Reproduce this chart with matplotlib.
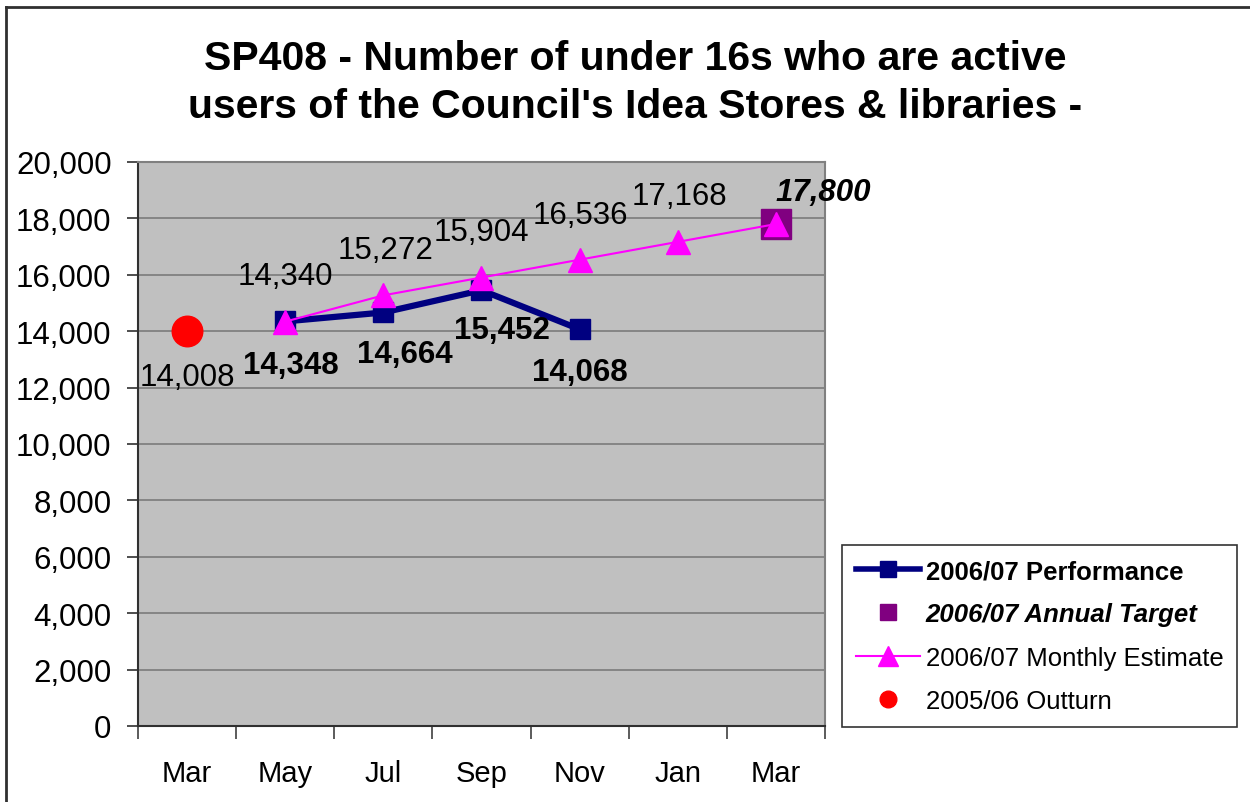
import numpy as np
import matplotlib
matplotlib.use("Agg")
import matplotlib.pyplot as plt
from matplotlib.lines import Line2D

plt.rcParams['font.family'] = ['Liberation Sans', 'DejaVu Sans']

# donnees
mois = ['Mar', 'May', 'Jul', 'Sep', 'Nov', 'Jan', 'Mar']
outturn_x = [0]
outturn = [14008]
perf_x = [1, 2, 3, 4]
perf = [14348, 14664, 15452, 14068]
estim_x = [1, 2, 3, 4, 5, 6]
estim = [14340, 15272, 15904, 16536, 17168, 17800]
cible_x = [6]
cible = [17800]

# decalages des etiquettes (pixels)
dec_perf = [(6, -44), (21, -42), (20, -40), (0, -43)]
dec_estim = [(0, 46), (2, 45), (0, 46), (1, 45), (2, 46), None]

fig = plt.figure(figsize=(12.5, 8.03), dpi=100)
ax = fig.add_axes([138/1250, 1-727/803, 687/1250, 564/803])
ax.set_facecolor('#C0C0C0')

for v in range(2000, 20001, 2000):
    ax.axhline(v, color='#808080', lw=1.3, zorder=1)

ax.plot(estim_x, estim, color='#FF00FF', lw=1.5, marker='^', ms=17, zorder=3)
ax.plot(perf_x, perf, color='#000080', lw=4.5, marker='s', ms=14, zorder=2)
ax.plot(cible_x, cible, ls='none', marker='s', color='#800080', ms=22, zorder=2)
ax.plot(outturn_x, outturn, ls='none', marker='o', color='#FF0000', ms=22, zorder=3)

fs = 22.5
for x, v in zip(outturn_x, outturn):
    ax.annotate(f"{v:,}", (x, v), xytext=(0, -46), textcoords='offset pixels',
                ha='center', va='center', fontsize=fs)
for (x, v), d in zip(zip(perf_x, perf), dec_perf):
    ax.annotate(f"{v:,}", (x, v), xytext=d, textcoords='offset pixels',
                ha='center', va='center', fontsize=fs, fontweight='bold')
for (x, v), d in zip(zip(estim_x, estim), dec_estim):
    if d is None:
        continue
    ax.annotate(f"{v:,}", (x, v), xytext=d, textcoords='offset pixels',
                ha='center', va='center', fontsize=fs)
for x, v in zip(cible_x, cible):
    ax.annotate(f"{v:,}", (x, v), xytext=(47, 32), textcoords='offset pixels',
                ha='center', va='center', fontsize=fs, fontweight='bold', style='italic',
                annotation_clip=False)

ax.set_ylim(0, 20000)
ax.set_yticks(range(0, 20001, 2000))
ax.set_yticklabels([f"{v:,}" for v in range(0, 20001, 2000)], fontsize=fs)
ax.tick_params(axis='y', length=8, width=1.3, pad=11, color='#404040')

ax.set_xlim(-0.5, len(mois) - 0.5)
ax.set_xticks(range(len(mois)))
ax.set_xticklabels(mois, fontsize=21)
ax.set_xticks(np.arange(-0.5, len(mois)), minor=True)
ax.tick_params(axis='x', which='major', length=0, pad=24)
ax.tick_params(axis='x', which='minor', length=9, width=1.2, color='#404040')

ax.spines['left'].set_color('#303030')
ax.spines['bottom'].set_color('#303030')
ax.spines['top'].set_color('#808080')
ax.spines['right'].set_color('#808080')
for s in ax.spines.values():
    s.set_linewidth(1.5)

fig.text(0.508, 1-40/803, "SP408 - Number of under 16s who are active\nusers of the Council's Idea Stores & libraries -",
         ha='center', va='top', fontsize=29.5, fontweight='bold', linespacing=1.33,
         transform=fig.transFigure)

poignees = [
    Line2D([], [], color='#000080', lw=4, marker='s', ms=12),
    Line2D([], [], ls='none', color='#800080', marker='s', ms=12),
    Line2D([], [], color='#FF00FF', lw=1.5, marker='^', ms=14),
    Line2D([], [], ls='none', color='#FF0000', marker='o', ms=12),
]
noms = ['2006/07 Performance', '2006/07 Annual Target', '2006/07 Monthly Estimate', '2005/06 Outturn']
leg = fig.legend(poignees, noms, loc='lower left', bbox_to_anchor=(842/1250, 1-728/803),
                 fontsize=18.5, frameon=True, fancybox=False, edgecolor='black',
                 handlelength=2.5, handletextpad=0.2, labelspacing=0.75, borderpad=0.55,
                 borderaxespad=0)
leg.get_frame().set_linewidth(1.2)
leg.get_texts()[0].set_fontweight('bold')
leg.get_texts()[1].set_fontweight('bold')
leg.get_texts()[1].set_style('italic')

# cadre exterieur (haut et gauche)
fig.add_artist(Line2D([6/1250, 1], [1-8/803, 1-8/803], color='#303030', lw=2, transform=fig.transFigure))
fig.add_artist(Line2D([6/1250, 6/1250], [0, 1-8/803], color='#303030', lw=2, transform=fig.transFigure))

fig.savefig('out.png', dpi=100)
